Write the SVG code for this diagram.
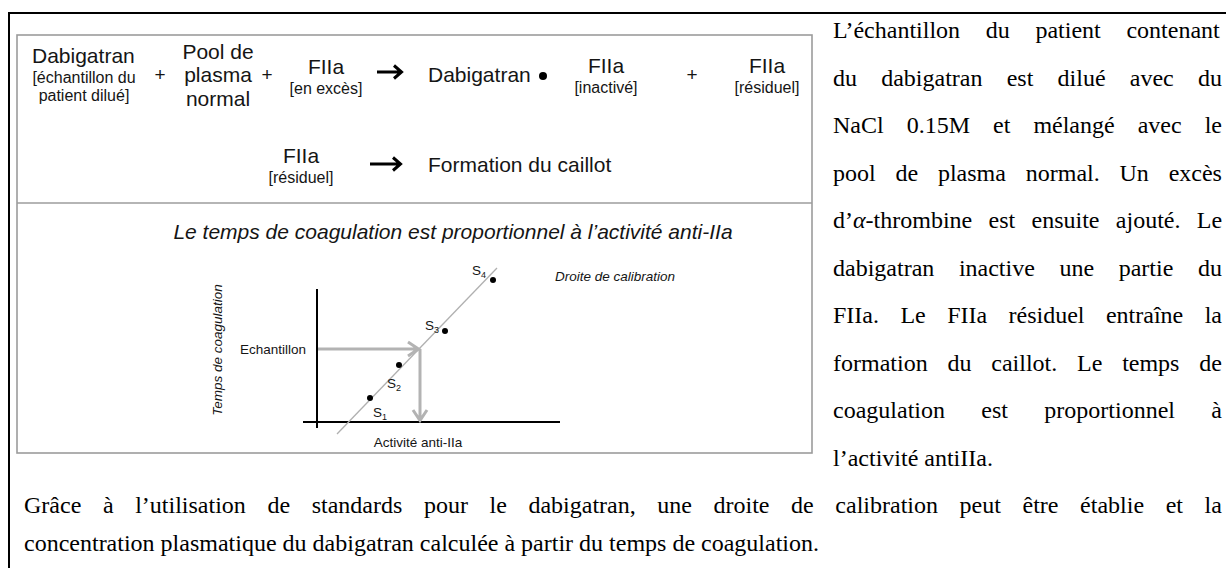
<svg xmlns="http://www.w3.org/2000/svg" width="1226" height="568" viewBox="0 0 1226 568">
<defs>
<style>
.s{font-family:"Liberation Sans",Arial,sans-serif;fill:#151515}
.big{font-size:21px}
.sm{font-size:16px}
.c{text-anchor:middle}
.it{font-style:italic}
.lab{font-size:13.5px}
.sub{font-size:9px}
.tnr{font-family:"Liberation Serif","Times New Roman",serif;font-size:24px;fill:#000}
.frame{fill:none;stroke:#000;stroke-width:2}
.box{fill:none;stroke:#9c9c9c;stroke-width:1.6}
.axis{stroke:#000;stroke-width:2;fill:none}
.cal{stroke:#b0b0b0;stroke-width:1.3;fill:none}
.garrow{stroke:#b3b3b3;stroke-width:3;fill:none}
.karrow{stroke:#000;stroke-width:3;fill:none}
.dot{fill:#000}
</style>
</defs>
<rect x="0" y="0" width="1226" height="568" fill="#fff"/>
<g id="frame">
<path class="frame" d="M9,568 V13 H1226"/>
<rect class="box" x="17" y="35" width="795" height="418"/>
<line class="box" x1="17" y1="203" x2="812" y2="203"/>
</g>
<g id="node-dabigatran-sample">
<text class="s big" x="32" y="63">Dabigatran</text>
<text class="s sm c" x="84" y="83">[échantillon du</text>
<text class="s sm c" x="84" y="101">patient dilué]</text>
</g>
<g id="node-plus1"><text class="s c" style="font-size:19px" x="160" y="81">+</text></g>
<g id="node-pool">
<text class="s big c" x="218" y="58.5">Pool de</text>
<text class="s big c" x="218" y="82">plasma</text>
<text class="s big c" x="218" y="105.5">normal</text>
</g>
<g id="node-plus2"><text class="s c" style="font-size:19px" x="267" y="81">+</text></g>
<g id="node-fiia-exces">
<text class="s big c" x="326" y="74">FIIa</text>
<text class="s sm c" x="326" y="94">[en excès]</text>
</g>
<g id="node-dabigatran-complex">
<text class="s big" x="428" y="82">Dabigatran</text>
<circle class="dot" cx="543" cy="76" r="4"/>
</g>
<g id="node-fiia-inactive">
<text class="s big c" x="606" y="73">FIIa</text>
<text class="s sm c" x="606" y="93">[inactivé]</text>
</g>
<g id="node-plus3"><text class="s c" style="font-size:19px" x="692" y="81">+</text></g>
<g id="node-fiia-residuel">
<text class="s big c" x="767" y="73">FIIa</text>
<text class="s sm c" x="767" y="93">[résiduel]</text>
</g>
<g id="node-fiia-residuel2">
<text class="s big c" x="301" y="163">FIIa</text>
<text class="s sm c" x="301" y="183">[résiduel]</text>
</g>
<g id="node-caillot">
<text class="s big" x="428" y="172">Formation du caillot</text>
</g>
<g id="node-title">
<text class="s big c it" x="453" y="239">Le temps de coagulation est proportionnel à l’activité anti-IIa</text>
</g>
<g id="node-graph">
<line class="axis" x1="317" y1="289" x2="317" y2="428"/>
<line class="axis" x1="303" y1="422" x2="560" y2="422"/>
<line class="cal" x1="337" y1="434" x2="497" y2="268"/>
<circle class="dot" cx="370" cy="398" r="3"/>
<circle class="dot" cx="399" cy="365" r="3"/>
<circle class="dot" cx="445" cy="331" r="3"/>
<circle class="dot" cx="493" cy="280" r="3"/>
<text class="s lab" x="373" y="417">S<tspan class="sub" dy="3">1</tspan></text>
<text class="s lab" x="387" y="388">S<tspan class="sub" dy="3">2</tspan></text>
<text class="s lab" x="425" y="330">S<tspan class="sub" dy="3">3</tspan></text>
<text class="s lab" x="472" y="275">S<tspan class="sub" dy="3">4</tspan></text>
<text class="s lab" x="240" y="354">Echantillon</text>
<text class="s lab it c" transform="translate(222,350) rotate(-90)">Temps de coagulation</text>
<text class="s lab it" x="555" y="281">Droite de calibration</text>
<text class="s lab c" x="418" y="447">Activité anti-IIa</text>
</g>
<g id="connectors">
<path class="karrow" d="M377,72 H401 M394,65.5 L401.5,72 L394,78.5"/>
<path class="karrow" d="M370,164 H400 M393,157.5 L400.5,164 L393,170.5"/>
<path class="garrow" d="M318,349 H418 M408,342 L418.5,349 L408,356"/>
<path class="garrow" d="M420,349 V420 M413,410 L420,420.5 L427,410"/>
</g>
<g id="node-right-text">
<text class="tnr" x="833" y="38" word-spacing="19.68">L’échantillon du patient contenant</text>
<text class="tnr" x="833" y="85.5" word-spacing="18.21">du dabigatran est dilué avec du</text>
<text class="tnr" x="833" y="133" word-spacing="17.02">NaCl 0.15M et mélangé avec le</text>
<text class="tnr" x="833" y="180.5" word-spacing="13.81">pool de plasma normal. Un excès</text>
<text class="tnr" x="833" y="228" word-spacing="10.31">d’<tspan font-style="italic">α</tspan>-thrombine est ensuite ajouté. Le</text>
<text class="tnr" x="833" y="275.5" word-spacing="18.6">dabigatran inactive une partie du</text>
<text class="tnr" x="833" y="323" word-spacing="15.42">FIIa. Le FIIa résiduel entraîne la</text>
<text class="tnr" x="833" y="370.5" word-spacing="13.8">formation du caillot. Le temps de</text>
<text class="tnr" x="833" y="418" word-spacing="30.35">coagulation est proportionnel à</text>
<text class="tnr" x="833" y="465.5">l’activité antiIIa.</text>
</g>
<g id="node-bottom-text">
<text class="tnr" x="24" y="513" word-spacing="15.6">Grâce à l’utilisation de standards pour le dabigatran, une droite de calibration peut être établie et la</text>
<text class="tnr" x="24" y="551">concentration plasmatique du dabigatran calculée à partir du temps de coagulation.</text>
</g>
</svg>
